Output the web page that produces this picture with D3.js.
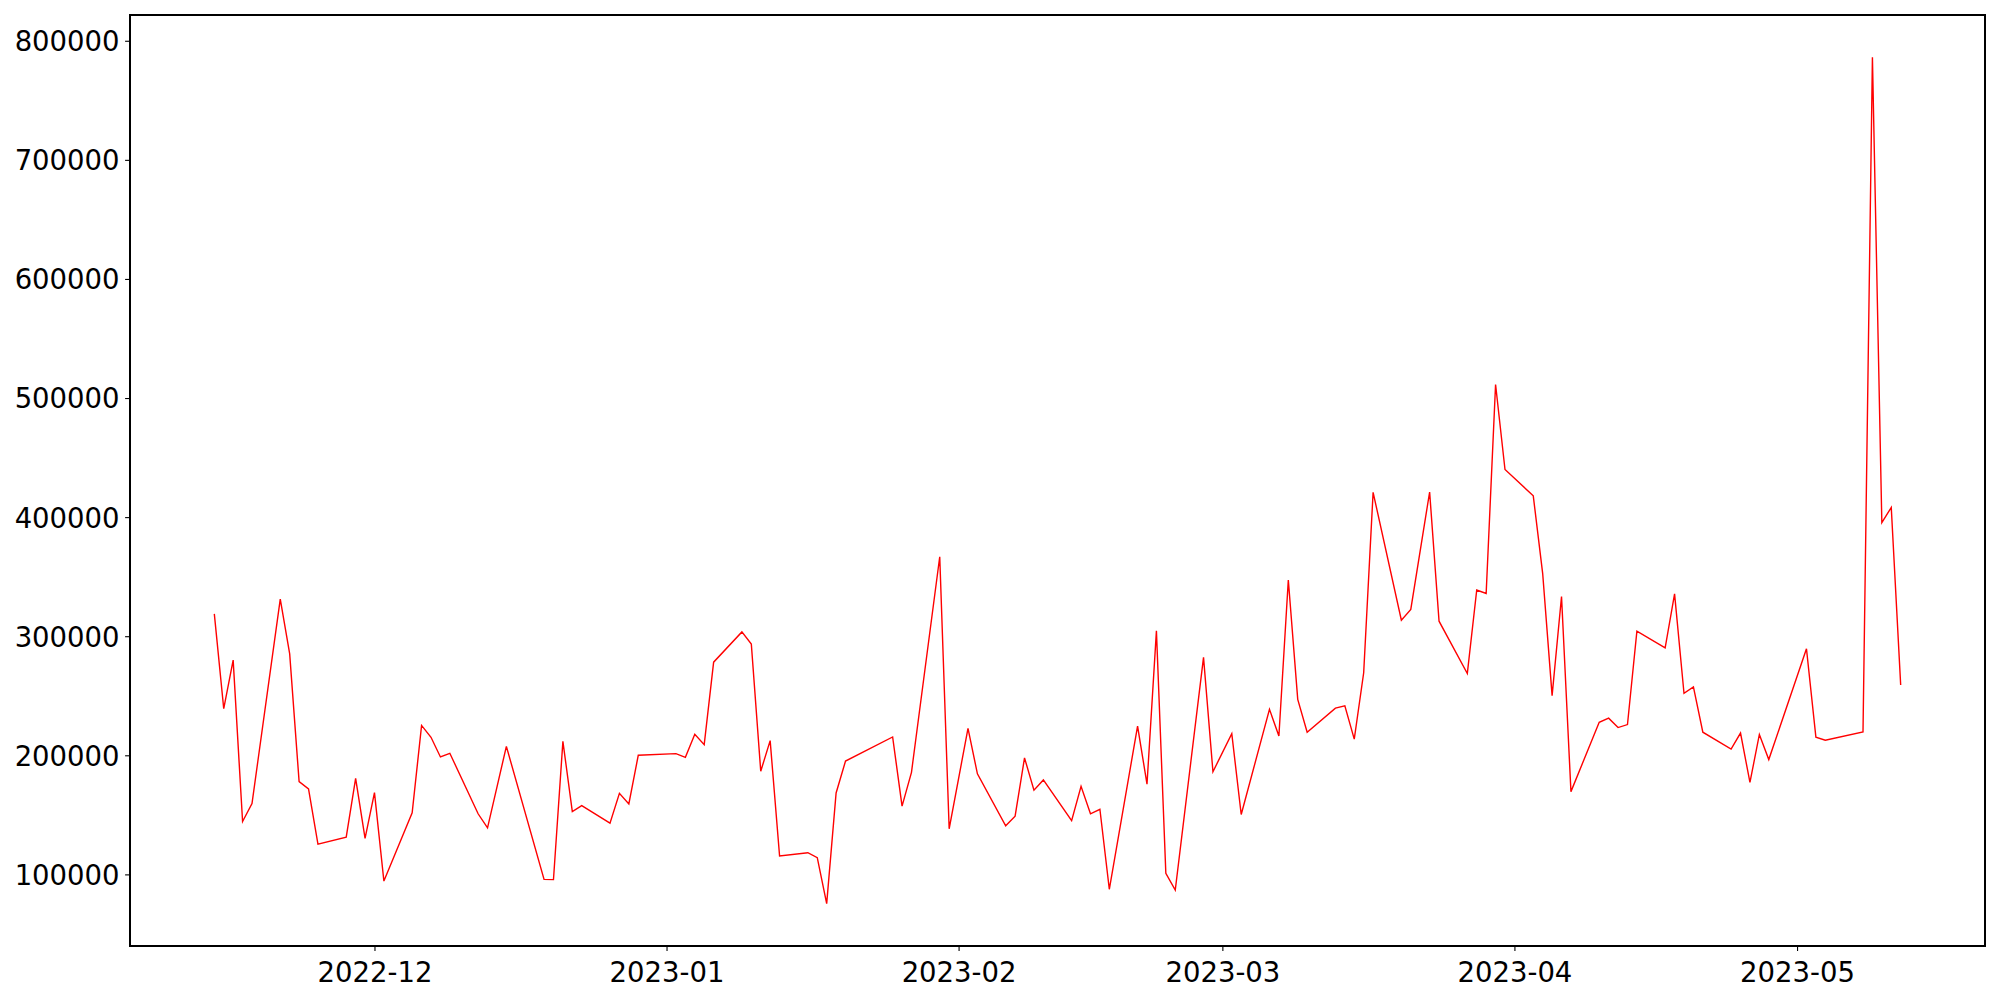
<!DOCTYPE html>
<html>
<head>
<meta charset="utf-8">
<script src="https://cdn.jsdelivr.net/npm/d3@7"></script>
<style>
  body { margin: 0; background: #fff; }
  .tick text { font-family: "DejaVu Sans", sans-serif; font-size: 27.5px; fill: #000; }
</style>
</head>
<body>
<div class="chart"></div>
<script>
// daily values (weekdays, a few gaps)
var dates = [
  "2022-11-14", "2022-11-15", "2022-11-16", "2022-11-17", "2022-11-18", "2022-11-21", "2022-11-22",
  "2022-11-23", "2022-11-24", "2022-11-25", "2022-11-28", "2022-11-29", "2022-11-30",
  "2022-12-01", "2022-12-02", "2022-12-05", "2022-12-06", "2022-12-07", "2022-12-08", "2022-12-09",
  "2022-12-12", "2022-12-13", "2022-12-15", "2022-12-19", "2022-12-20", "2022-12-21", "2022-12-22",
  "2022-12-23", "2022-12-26", "2022-12-27", "2022-12-28", "2022-12-29",
  "2023-01-02", "2023-01-03", "2023-01-04", "2023-01-05", "2023-01-06", "2023-01-09", "2023-01-10",
  "2023-01-11", "2023-01-12", "2023-01-13", "2023-01-16", "2023-01-17", "2023-01-18", "2023-01-19",
  "2023-01-20", "2023-01-25", "2023-01-26", "2023-01-27", "2023-01-30", "2023-01-31",
  "2023-02-02", "2023-02-03", "2023-02-06", "2023-02-07", "2023-02-08", "2023-02-09", "2023-02-10",
  "2023-02-13", "2023-02-14", "2023-02-15", "2023-02-16", "2023-02-17", "2023-02-20", "2023-02-21",
  "2023-02-22", "2023-02-23", "2023-02-24", "2023-02-27", "2023-02-28",
  "2023-03-02", "2023-03-03", "2023-03-06", "2023-03-07", "2023-03-08", "2023-03-09", "2023-03-10",
  "2023-03-13", "2023-03-14", "2023-03-15", "2023-03-16", "2023-03-17", "2023-03-20", "2023-03-21",
  "2023-03-23", "2023-03-24", "2023-03-27", "2023-03-28", "2023-03-29", "2023-03-30", "2023-03-31",
  "2023-04-03", "2023-04-04", "2023-04-05", "2023-04-06", "2023-04-07", "2023-04-10", "2023-04-11",
  "2023-04-12", "2023-04-13", "2023-04-14", "2023-04-17", "2023-04-18", "2023-04-19", "2023-04-20",
  "2023-04-21", "2023-04-24", "2023-04-25", "2023-04-26", "2023-04-27", "2023-04-28",
  "2023-05-02", "2023-05-03", "2023-05-04", "2023-05-08", "2023-05-09", "2023-05-10", "2023-05-11",
  "2023-05-12"
];

var values = [
  318700, 239100, 279900, 144400, 159500, 331200, 285200,
  177900, 171800, 125400, 131300, 180700, 130200,
  168700, 94400, 151700, 225100, 215100, 198600, 201700,
  150900, 139100, 207500, 95800, 95600, 211700, 152800,
  157800, 143000, 168100, 159200, 200000,
  201400, 198300, 217600, 208900, 278200, 303600, 293500,
  186600, 212300, 115400, 118200, 114000, 75400, 168400,
  195200, 215400, 157300, 185700, 366700, 138300,
  222600, 184400, 140800, 148900, 197800, 170700, 179300,
  145100, 173900, 150900, 154700, 87500, 224500, 175800,
  304500, 100900, 86900, 282200, 186200,
  218100, 150300, 238600, 216200, 347200, 247000, 219400,
  239600, 241500, 213600, 269300, 420800, 313500, 322500,
  421100, 312600, 268700, 338800, 335900, 511400, 440000,
  417900, 352600, 250100, 333300, 169500, 227700, 231200,
  223300, 225800, 304300, 290200, 335600, 252100, 257500,
  219400, 205300, 218700, 177200, 217500, 196400,
  289500, 215200, 212700, 219600, 786100, 395300, 408100,
  259100
];

var yTicks = [100000, 200000, 300000, 400000, 500000, 600000, 700000, 800000];
var xTickLabels = ["2022-12", "2023-01", "2023-02", "2023-03", "2023-04", "2023-05"];

var svgWidth = 2000;
var svgHeight = 1000;

var margin = {
  top: 15,
  right: 15,
  bottom: 54,
  left: 130
};

var width = svgWidth - margin.left - margin.right;
var height = svgHeight - margin.top - margin.bottom;

var parseDate = d3.timeParse("%Y-%m-%d");
var parseMonth = d3.timeParse("%Y-%m");

var data = dates.map(function(d, i) {
  return { date: parseDate(d), value: values[i] };
});

var svg = d3.select(".chart")
  .append("svg")
  .attr("width", svgWidth)
  .attr("height", svgHeight);

var chartGroup = svg.append("g")
  .attr("transform", `translate(${margin.left}, ${margin.top})`);

// 5% padding on both axes, like matplotlib's auto margins
var xExtent = d3.extent(data, d => d.date);
var xPad = (xExtent[1] - xExtent[0]) * 0.05;
var xTimeScale = d3.scaleTime()
  .domain([new Date(+xExtent[0] - xPad), new Date(+xExtent[1] + xPad)])
  .range([0, width]);

var yExtent = d3.extent(data, d => d.value);
var yPad = (yExtent[1] - yExtent[0]) * 0.05;
var yLinearScale = d3.scaleLinear()
  .domain([yExtent[0] - yPad, yExtent[1] + yPad])
  .range([height, 0]);

var bottomAxis = d3.axisBottom(xTimeScale)
  .tickValues(xTickLabels.map(parseMonth))
  .tickFormat(d3.timeFormat("%Y-%m"))
  .tickSize(4.9)
  .tickPadding(6);

var leftAxis = d3.axisLeft(yLinearScale)
  .tickValues(yTicks)
  .tickFormat(d3.format("d"))
  .tickSize(4.9)
  .tickPadding(5.5);

var xAxis = chartGroup.append("g")
  .attr("transform", `translate(0, ${height})`)
  .call(bottomAxis);

var yAxis = chartGroup.append("g")
  .call(leftAxis);

[xAxis, yAxis].forEach(function(ax) {
  ax.select(".domain").remove();
  ax.selectAll(".tick line").attr("stroke", "#000").attr("stroke-width", 1.1);
});

xAxis.selectAll(".tick text").attr("dy", "0.93em");
yAxis.selectAll(".tick text").attr("dy", "0.36em");

// the line
var line = d3.line()
  .x(d => xTimeScale(d.date))
  .y(d => yLinearScale(d.value));

chartGroup.append("path")
  .datum(data)
  .attr("fill", "none")
  .attr("stroke", "#ff0000")
  .attr("stroke-width", 1.4)
  .attr("stroke-linejoin", "miter")
  .attr("d", line);

// frame
chartGroup.append("rect")
  .attr("x", 0)
  .attr("y", 0)
  .attr("width", width)
  .attr("height", height)
  .attr("fill", "none")
  .attr("stroke", "#000")
  .attr("stroke-width", 1.2)
  .attr("shape-rendering", "crispEdges");
</script>
</body>
</html>
